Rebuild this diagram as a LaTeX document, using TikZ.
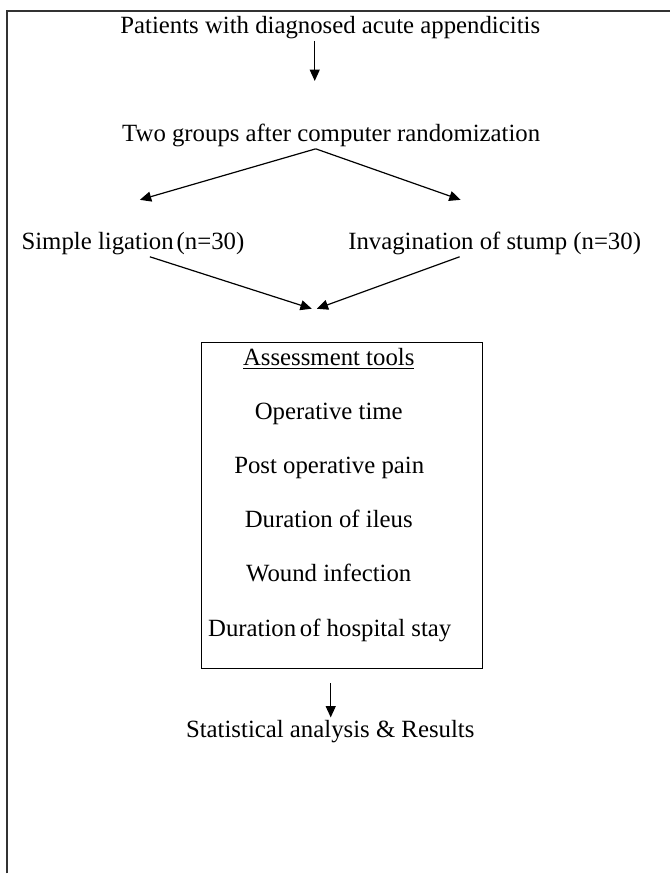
\documentclass[tikz,border=0pt]{standalone}
\usepackage{fontspec}
\setmainfont{Liberation Serif}
\usetikzlibrary{arrows.meta}

\tikzset{every picture/.style={line width=0.9pt}}
\tikzset{
  txt/.style={anchor=base,inner sep=0.75pt,font=\fontsize{18.6}{22}\selectfont},
  arr/.style={-{Triangle[length=8.5pt,width=7.5pt]}},
}

\begin{document}
\begin{tikzpicture}[x=0.75pt,y=0.75pt,yscale=-1,xscale=1]
\path (0,0) rectangle (671,874); %set diagram size

%Frame
\draw [line width=1.1pt,color=black!80]   (7,874) -- (7,11) -- (671,11) ;

% Text Nodes
\node [txt] (pat) at (330.5,34) {Patients with diagnosed acute appendicitis};
\node [txt] (two) at (331.5,142) {Two groups after computer randomization};
\node [txt,anchor=base west] (lig) at (20,250) {Simple ligation\hspace{0.12em}(n=30)};
\node [txt,anchor=base west] (inv) at (347,250) {Invagination of stump (n=30)};

%Box
\node [draw,minimum width=210.75pt,minimum height=244.5pt,inner sep=0pt] (box) at (342.5,506) {};
\node [txt] (tools) at (329,366) {\underline{Assessment tools}};
\node [txt] (optime) at (329,420) {Operative time};
\node [txt] (pain) at (329.5,474) {Post operative pain};
\node [txt] (ileus) at (329,528) {Duration of ileus};
\node [txt] (wound) at (329,582) {Wound infection};
\node [txt] (stay) at (330,637) {Duration\hspace{0.15em}of hospital stay};

\node [txt] (stat) at (330.5,738) {Statistical analysis \& Results};

% Connector ends
\coordinate (patend) at (315,81);
\coordinate (split) at (316,150);
\coordinate (ligtip) at (140,200);
\coordinate (invtip) at (461,200);
\coordinate (ligout) at (150,257);
\coordinate (invout) at (460,257);
\coordinate (joinl) at (312,309);
\coordinate (joinr) at (317,309);
\coordinate (statend) at (331,718);

% Arrows
\draw [arr]   (pat.south -| patend) -- (patend) ;
\draw [arr]   (two.south -| split) -- (ligtip) ;
\draw [arr]   (two.south -| split) -- (invtip) ;
\draw [arr]   (ligout) -- (joinl) ;
\draw [arr]   (invout) -- (joinr) ;
\draw [arr]   ([yshift=10.5pt]box.south -| statend) -- (statend) ;
\end{tikzpicture}
\end{document}
